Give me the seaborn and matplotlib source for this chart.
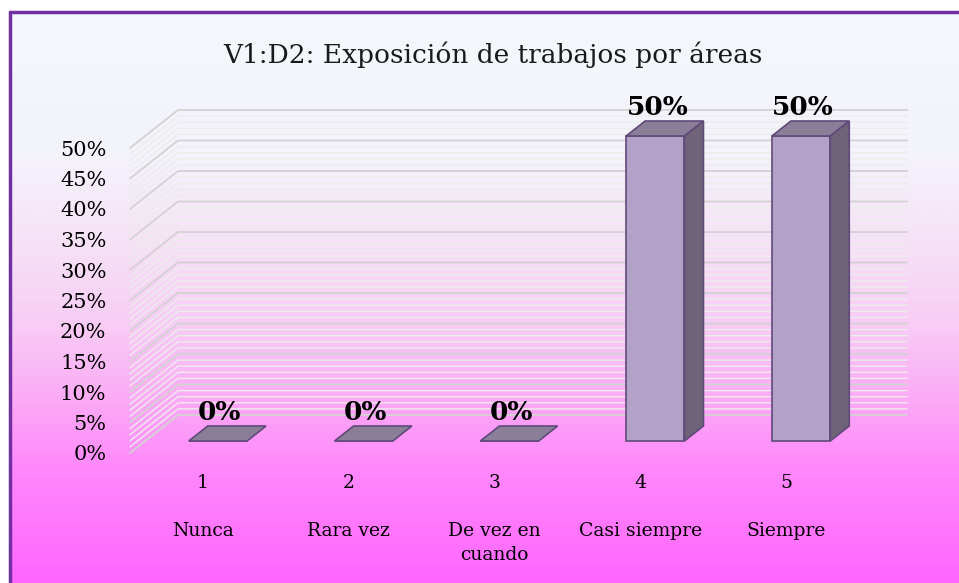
import numpy as np
import pandas as pd
import matplotlib
matplotlib.use("Agg")
import matplotlib.pyplot as plt
from matplotlib.colors import LinearSegmentedColormap
from matplotlib.patches import Polygon
import seaborn as sns

# datos
numeros = ["1", "2", "3", "4", "5"]
categorias = ["Nunca", "Rara vez", "De vez en\ncuando", "Casi siempre", "Siempre"]
porcentajes = [0.0, 0.0, 0.0, 0.50, 0.50]
titulo = "V1:D2: Exposición de trabajos por áreas"

sns.set_theme(style="white")
plt.rcParams["font.family"] = ["DejaVu Serif", "Liberation Serif"]

fig = plt.figure(figsize=(9.59, 5.83), dpi=100)
W, H = 959, 583

# fondo degradado
bg = fig.add_axes([10 / W, 0, 1 - 10 / W, 1 - 12 / H])
cmap = LinearSegmentedColormap.from_list("fondo", [
    (0.0, "#f3f8fb"), (0.25, "#f4f3fc"), (0.40, "#f6e2f6"),
    (0.55, "#f8ccf5"), (0.68, "#fcaaf6"), (0.80, "#ff88fc"), (1.0, "#ff66ff")])
bg.imshow(np.linspace(0, 1, 256).reshape(-1, 1), aspect="auto", cmap=cmap,
          extent=[0, 1, 0, 1])
bg.set_axis_off()
fig.add_artist(plt.Line2D([10 / W, 10 / W], [0, 1 - 12 / H], color="#7030a0", lw=2.5))
fig.add_artist(plt.Line2D([10 / W, 1], [1 - 12 / H, 1 - 12 / H], color="#7030a0", lw=2.5))

# plano frontal del grafico
ax = fig.add_axes([130 / W, (H - 453) / H, 729 / W, 305 / H])
ax.patch.set_alpha(0)
ax.set_xlim(-0.5, 4.5)
ax.set_ylim(0, 0.5)

px_x = 5 / 729      # unidades x por pixel
px_y = 0.5 / 305    # unidades y por pixel
wall_dx, wall_dy = 48 * px_x, 38 * px_y     # pared del fondo
face_dx, face_dy = 15 * px_x, 12 * px_y     # cara frontal de las barras
depth_dx, depth_dy = 19 * px_x, 15 * px_y   # profundidad de las barras

# lineas de division (pared lateral y del fondo)
for i, y in enumerate(np.arange(0, 0.5001, 0.01)):
    mayor = i % 5 == 0
    c = "#d2d2d2" if mayor else "#ececec"
    lw = 1.3 if mayor else 1.0
    ax.plot([-0.5, -0.5 + wall_dx, 4.5 + wall_dx], [y, y + wall_dy, y + wall_dy],
            color=c, lw=lw, clip_on=False, zorder=1 if not mayor else 1.5)

df = pd.DataFrame({"cat": numeros, "valor": porcentajes})
sns.barplot(data=df, x="cat", y="valor", ax=ax, width=0.4, color="#b3a2c7",
            edgecolor="#604a7b", linewidth=1.2, saturation=1, zorder=3)

for p, v in zip(ax.patches, porcentajes):
    x0 = p.get_x() + face_dx
    p.set_x(x0)
    p.set_y(face_dy)
    p.set_clip_on(False)
    x1 = x0 + p.get_width()
    y0 = face_dy
    y1 = face_dy + v
    top = Polygon([(x0, y1), (x0 + depth_dx, y1 + depth_dy), (x1 + depth_dx, y1 + depth_dy), (x1, y1)],
                  closed=True, facecolor="#8a7e98", edgecolor="#604a7b", lw=1.2, zorder=4, clip_on=False)
    ax.add_patch(top)
    if v > 0:
        side = Polygon([(x1, y0), (x1 + depth_dx, y0 + depth_dy), (x1 + depth_dx, y1 + depth_dy), (x1, y1)],
                       closed=True, facecolor="#6f6379", edgecolor="#604a7b", lw=1.2, zorder=4, clip_on=False)
        ax.add_patch(side)
    ax.text((x0 + x1) / 2 + 2 * px_x, y1 + depth_dy + 1 * px_y, f"{v:.0%}", ha="center", va="bottom",
            fontsize=19, fontweight="bold", color="black", zorder=5, clip_on=False)

sns.despine(ax=ax, left=True, bottom=True)
ax.set_xlabel("")
ax.set_ylabel("")
ax.set_yticks(np.arange(0, 0.5001, 0.05))
ax.set_yticklabels([f"{t:.0%}" for t in np.arange(0, 0.5001, 0.05)], fontsize=15, color="black")
ax.set_xticks(range(5))
ax.set_xticklabels([f"{n}\n\n{c}" for n, c in zip(numeros, categorias)],
                   fontsize=13.5, linespacing=1.43, va="top", color="black")
ax.tick_params(axis="y", length=0, pad=17)
ax.tick_params(axis="x", length=0, pad=15)
ax.grid(False)

fig.text(493 / W, 1 - 55 / H, titulo, ha="center", va="center", fontsize=19, color="#1a1a1a")

fig.savefig("out.png", dpi=100)
